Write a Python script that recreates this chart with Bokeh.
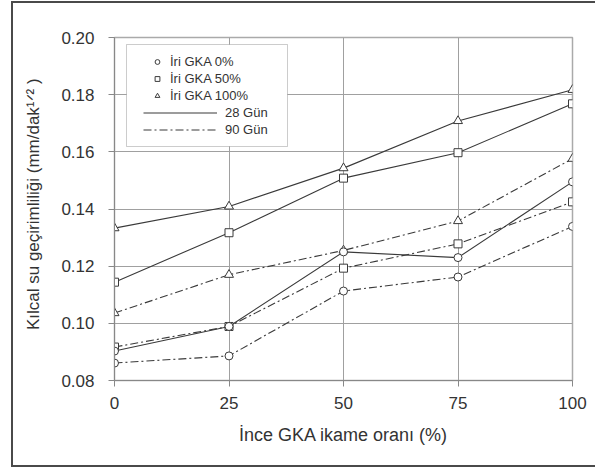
from bokeh.plotting import figure
from bokeh.models import (FixedTicker, NumeralTickFormatter, Legend, LegendItem,
                          BoxAnnotation, Range1d)
from bokeh.embed import file_html
from bokeh.resources import INLINE

# ---- data ----
ratio = [0, 25, 50, 75, 100]
gka0_28 = [0.0903, 0.0989, 0.1250, 0.1230, 0.1495]
gka50_28 = [0.1144, 0.1317, 0.1508, 0.1597, 0.1768]
gka100_28 = [0.1333, 0.1409, 0.1543, 0.1708, 0.1817]
gka0_90 = [0.0861, 0.0886, 0.1113, 0.1162, 0.1339]
gka50_90 = [0.0917, 0.0989, 0.1193, 0.1278, 0.1425]
gka100_90 = [0.1036, 0.1170, 0.1255, 0.1358, 0.1576]

x_ticks = [0, 25, 50, 75, 100]
y_ticks = [0.08, 0.10, 0.12, 0.14, 0.16, 0.18, 0.20]

series_labels = ["İri GKA 0%", "İri GKA 50%", "İri GKA 100%"]
age_labels = ["28 Gün", "90 Gün"]
x_title = "İnce GKA ikame oranı (%)"
y_title = "\u00a0\u00a0\u00a0Kılcal su geçirimliliği  (mm/dak¹ᐟ² )"

FONT = "Liberation Sans"
TXT = "#333333"
LINE = "#3a3a3a"
GRID = "#a0a0a0"
FRAME = "#4a4a4a"

p = figure(width=595, height=468, output_backend="svg", toolbar_location=None,
           x_range=Range1d(0, 100), y_range=Range1d(0.08, 0.20),
           min_border_left=114, min_border_right=23, min_border_top=37,
           min_border_bottom=88)

p.background_fill_color = "white"
p.border_fill_alpha = 0
p.outline_line_color = "#aaaaaa"
p.outline_line_width = 1.5

# outer frame drawn behind the (transparent) canvas border area
g = f"linear-gradient({FRAME},{FRAME})"
p.styles = {
    "background-color": "white",
    "background-image": f"{g}, {g}, {g}",
    "background-position": "11px 1px, 11px 1px, 11px 465px",
    "background-size": "2px 466px, 600px 2px, 600px 2px",
    "background-repeat": "no-repeat",
}

# axes
p.xaxis.ticker = FixedTicker(ticks=x_ticks)
p.yaxis.ticker = FixedTicker(ticks=y_ticks)
p.yaxis.formatter = NumeralTickFormatter(format="0.00")
for ax in (p.xaxis[0], p.yaxis[0]):
    ax.major_label_text_font = FONT
    ax.major_label_text_font_size = "17px"
    ax.major_label_text_color = TXT
    ax.axis_line_color = "#888888"
    ax.major_tick_line_color = "#888888"
    ax.major_tick_out = 6
    ax.major_tick_in = 0
    ax.minor_tick_line_color = None
    ax.axis_label_text_font = FONT
    ax.axis_label_text_font_style = "normal"
    ax.axis_label_text_color = TXT
p.xaxis.major_label_standoff = 10
p.yaxis.major_label_standoff = 14
p.xaxis.axis_label = x_title
p.xaxis.axis_label_text_font_size = "18px"
p.xaxis.axis_label_standoff = 13
p.yaxis.axis_label = y_title
p.yaxis.axis_label_text_font_size = "17px"
p.yaxis.axis_label_standoff = 15

p.grid.grid_line_color = GRID
p.grid.grid_line_width = 1

DASHDOT = "8 3 2 3"

# 90-day lines
l90 = []
for ys in (gka0_90, gka50_90, gka100_90):
    l90.append(p.line(ratio, ys, line_color=LINE, line_width=1.1, line_dash=DASHDOT))
# 28-day lines
l28 = []
for ys in (gka0_28, gka50_28, gka100_28):
    l28.append(p.line(ratio, ys, line_color=LINE, line_width=1.1))

markers = ["circle", "square", "triangle"]
sizes = [8, 8, 9]
mk = []
for ys, m, s in zip((gka0_90, gka50_90, gka100_90), markers, sizes):
    p.scatter(ratio, ys, marker=m, size=s, fill_color="white", line_color=LINE, line_width=1)
for ys, m, s in zip((gka0_28, gka50_28, gka100_28), markers, sizes):
    mk.append(p.scatter(ratio, ys, marker=m, size=s, fill_color="white", line_color=LINE, line_width=1))

# legend box
p.add_layout(BoxAnnotation(left=12, right=173, bottom=234, top=336,
                           left_units="screen", right_units="screen",
                           bottom_units="screen", top_units="screen",
                           fill_color="white", fill_alpha=1,
                           line_color="#555555", line_width=1))

legA = Legend(items=[LegendItem(label=t, renderers=[r]) for t, r in zip(series_labels, mk)],
              location=(37, 277), glyph_width=12, glyph_height=15, label_height=15,
              label_standoff=7, spacing=2, padding=0, margin=0,
              border_line_alpha=0, background_fill_alpha=0,
              label_text_font=FONT, label_text_font_size="13px", label_text_color=TXT)
legB = Legend(items=[LegendItem(label=age_labels[0], renderers=[l28[2]]),
                     LegendItem(label=age_labels[1], renderers=[l90[2]])],
              location=(29, 243), glyph_width=74, glyph_height=15, label_height=15,
              label_standoff=8, spacing=2, padding=0, margin=0,
              border_line_alpha=0, background_fill_alpha=0,
              label_text_font=FONT, label_text_font_size="13px", label_text_color=TXT)
p.add_layout(legA, "center")
p.add_layout(legB, "center")

open("out.html", "w").write(file_html(p, INLINE))
